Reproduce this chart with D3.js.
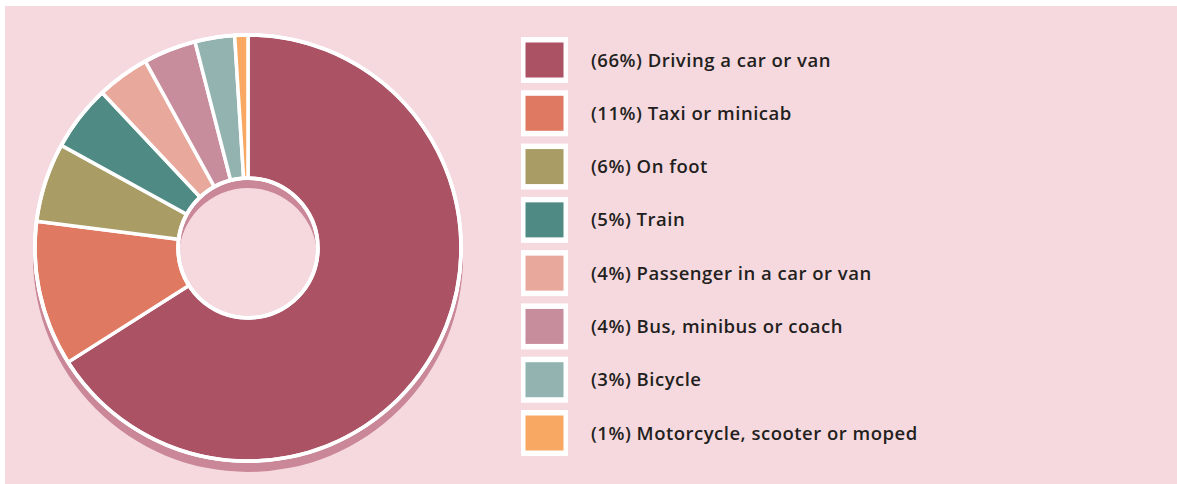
<!DOCTYPE html>
<html><head><meta charset="utf-8">
<script src="https://cdn.jsdelivr.net/npm/d3@7"></script>
<style>html,body{margin:0;padding:0;background:#fff;}svg{display:block;}</style>
</head><body>
<svg id="chart" width="1177" height="484"></svg>
<script>
const categories = ["Driving a car or van","Taxi or minicab","On foot","Train","Passenger in a car or van","Bus, minibus or coach","Bicycle","Motorcycle, scooter or moped"];
const values = [66, 11, 6, 5, 4, 4, 3, 1];
const colors = ["#ab5365","#e07961","#a99d65","#4f8b84","#e8a89c","#c78d9c","#93b3b0","#f8a862"];

const svg = d3.select("#chart");
svg.append("rect").attr("x",5).attr("y",6).attr("width",1172).attr("height",478).attr("fill","#f6d9df");

const data = categories.map((c,i)=>({cat:c,value:values[i],color:colors[i]}));
const pie = d3.pie().value(d=>d.value).sort(null);
const arcs = pie(data);
const cx = 248, cy = 248, R = 213, r = 70;
const arc = d3.arc().innerRadius(r).outerRadius(R);

// shadow ring
const sh = svg.append("g").attr("transform",`translate(${cx},${cy+9})`);
sh.append("path").attr("d", d3.arc().innerRadius(r-1).outerRadius(R+2).startAngle(0).endAngle(2*Math.PI)())
  .attr("fill","#c98797");

const g = svg.append("g").attr("transform",`translate(${cx},${cy})`);
g.append("path").attr("d", d3.arc().innerRadius(r-2).outerRadius(R+2).startAngle(0).endAngle(2*Math.PI)())
  .attr("fill","#fff");
g.selectAll("path.slice").data(arcs).join("path").attr("class","slice")
  .attr("d", arc).attr("fill", d=>d.data.color)
  .attr("stroke","#fff").attr("stroke-width",3.5).attr("stroke-linejoin","miter");
g.append("circle").attr("r",R).attr("fill","none").attr("stroke","#fff").attr("stroke-width",3.5);
g.append("circle").attr("r",r).attr("fill","none").attr("stroke","#fff").attr("stroke-width",3.5);

// legend
const y = d3.scalePoint().domain(categories).range([60,433]);
const lg = svg.append("g");
const rows = lg.selectAll("g.row").data(data).join("g").attr("class","row")
  .attr("transform", d=>`translate(0,${y(d.cat)})`);
rows.append("rect").attr("x",521).attr("y",-23).attr("width",47).attr("height",46).attr("fill","#fff");
rows.append("rect").attr("x",525.5).attr("y",-17.5).attr("width",38).attr("height",35).attr("fill",d=>d.color);
rows.append("text").attr("x",591).attr("y",6.5)
  .attr("font-family","'Open Sans', sans-serif").attr("font-size",18.5).attr("font-weight",600)
  .attr("letter-spacing",0.5)
  .attr("fill","#231f20")
  .text(d=>`(${d.value}%) ${d.cat}`);
</script>
</body></html>
